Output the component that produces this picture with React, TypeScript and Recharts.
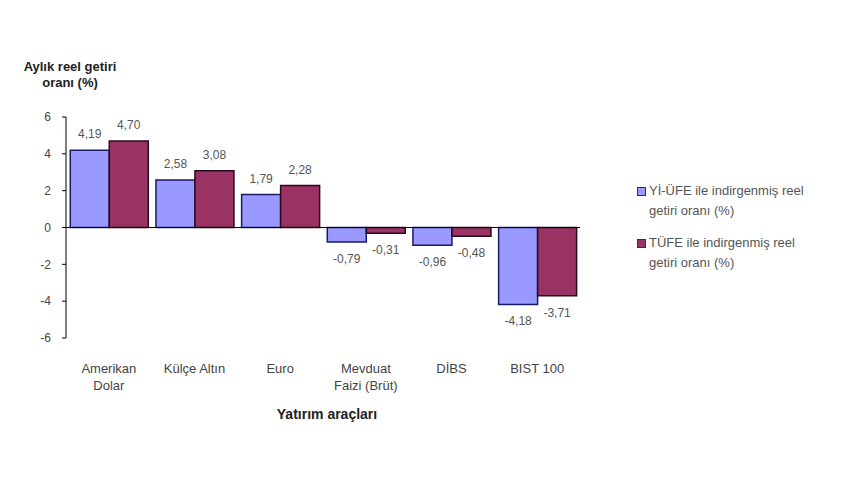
import React from "react";
import {
  BarChart,
  Bar,
  XAxis,
  YAxis,
  ReferenceLine,
  LabelList,
} from "recharts";

const categories = ["Amerikan Dolar", "Külçe Altın", "Euro", "Mevduat Faizi (Brüt)", "DİBS", "BIST 100"];
const ufeValues = [4.19, 2.58, 1.79, -0.79, -0.96, -4.18];
const tufeValues = [4.7, 3.08, 2.28, -0.31, -0.48, -3.71];
const yTicks = [-6, -4, -2, 0, 2, 4, 6];
const seriesNames = [
  "Yİ-ÜFE ile indirgenmiş reel getiri oranı (%)",
  "TÜFE ile indirgenmiş reel getiri oranı (%)",
];

const data = categories.map((name, i) => ({
  name,
  ufe: ufeValues[i],
  tufe: tufeValues[i],
}));

const FONT = "'Liberation Sans', Arial, sans-serif";
const BLUE = "#9999ff";
const RED = "#993366";

const fmt = (v: number) => v.toFixed(2).replace(".", ",");

// label above positive bars, below negative ones
const ValueLabel = (props: any) => {
  const { x, y, width, height, value } = props;
  const top = Math.min(y, y + height);
  const bottom = Math.max(y, y + height);
  const neg = value < 0;
  return (
    <text
      x={x + width / 2}
      y={neg ? bottom + 21 : top - 12}
      textAnchor="middle"
      fontSize={12}
      fill="#555"
      fontFamily={FONT}
    >
      {fmt(value)}
    </text>
  );
};

const CategoryTick = (props: any) => {
  const { x, y, payload } = props;
  let lines: string[] = [payload.value];
  if (payload.value === "Amerikan Dolar") lines = ["Amerikan", "Dolar"];
  if (payload.value === "Mevduat Faizi (Brüt)") lines = ["Mevduat", "Faizi (Brüt)"];
  return (
    <g transform={`translate(${x},${y})`}>
      {lines.map((l, i) => (
        <text
          key={i}
          x={0}
          y={27 + i * 17}
          textAnchor="middle"
          fontSize={13}
          fill="#444"
          fontFamily={FONT}
        >
          {l}
        </text>
      ))}
    </g>
  );
};

const App: React.FC = () => {
  return (
    <div style={{ position: "absolute", left: 0, top: 0, width: 860, height: 480, background: "#fff" }}>
      <div
        style={{
          position: "absolute",
          left: 10,
          top: 59,
          width: 120,
          textAlign: "center",
          fontFamily: FONT,
          fontWeight: "bold",
          fontSize: 13,
          lineHeight: "16px",
          color: "#222",
          whiteSpace: "nowrap",
        }}
      >
        Aylık reel getiri
        <br />
        oranı (%)
      </div>
      <BarChart
        width={860}
        height={480}
        data={data}
        margin={{ top: 117, right: 280, bottom: 82, left: 46 }}
        barCategoryGap="5%"
        barGap={0}
      >
        <YAxis
          domain={[-6, 6]}
          ticks={yTicks}
          width={20}
          axisLine={{ stroke: "#000" }}
          tickLine={{ stroke: "#000" }}
          tickSize={4}
          tickMargin={11}
          tick={{ fontSize: 12, fill: "#444", fontFamily: FONT }}
          interval={0}
        />
        <XAxis
          dataKey="name"
          height={60}
          axisLine={false}
          tickLine={false}
          tick={<CategoryTick />}
          interval={0}
        />
        <ReferenceLine y={0} stroke="#000" />
        <Bar dataKey="ufe" fill={BLUE} stroke="#1a1a66" strokeWidth={1.5} isAnimationActive={false}>
          <LabelList dataKey="ufe" content={<ValueLabel />} />
        </Bar>
        <Bar dataKey="tufe" fill={RED} stroke="#2a0a1a" strokeWidth={1.5} isAnimationActive={false}>
          <LabelList dataKey="tufe" content={<ValueLabel />} />
        </Bar>
      </BarChart>
      <div
        style={{
          position: "absolute",
          left: 327,
          top: 406,
          fontFamily: FONT,
          fontWeight: "bold",
          fontSize: 14,
          color: "#222",
          transform: "translateX(-50%)",
          whiteSpace: "nowrap",
        }}
      >
        Yatırım araçları
      </div>
      <div style={{ position: "absolute", left: 637, top: 181, width: 200, fontFamily: FONT, fontSize: 13, color: "#555" }}>
        {seriesNames.map((n, i) => {
          const cut = n.indexOf(" getiri");
          return (
            <div key={i} style={{ display: "flex", alignItems: "flex-start", marginBottom: 12, lineHeight: "20px" }}>
              <span
                style={{
                  display: "inline-block",
                  width: 7,
                  height: 7,
                  marginTop: 6,
                  marginRight: 3,
                  background: i === 0 ? BLUE : RED,
                  border: "1px solid #333",
                  flexShrink: 0,
                }}
              />
              <span style={{ whiteSpace: "nowrap" }}>
                {n.slice(0, cut)}
                <br />
                {n.slice(cut + 1)}
              </span>
            </div>
          );
        })}
      </div>
    </div>
  );
};

export default App;
